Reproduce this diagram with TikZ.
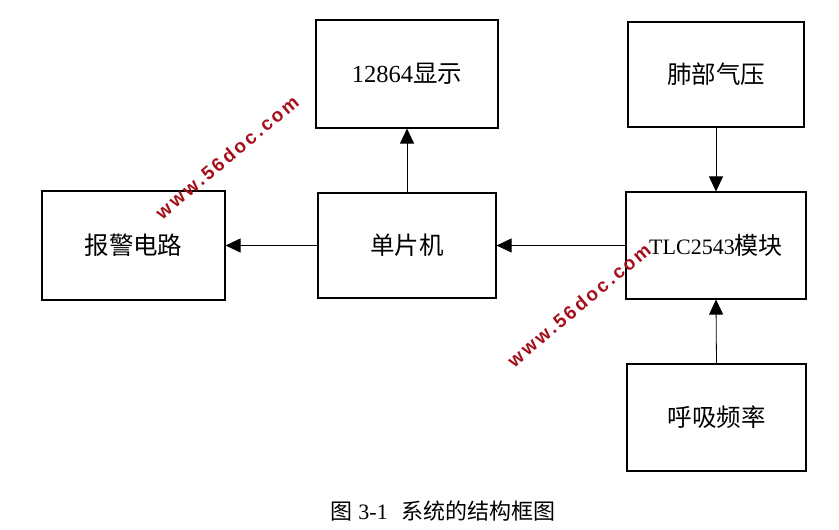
\documentclass[tikz,border=0pt]{standalone}
\usepackage{fontspec}
\setmainfont{Liberation Serif}
\newfontfamily\cjk{Noto Sans CJK SC}
\newfontfamily\wmfont[LetterSpace=14]{Liberation Sans}
\usepackage{tikz}
\usetikzlibrary{arrows.meta,positioning}

\definecolor{wmred}{RGB}{165,15,25}

\tikzset{
  blk/.style={draw, line width=1.1pt, inner sep=0pt, minimum width=180pt,
    minimum height=107pt, font=\fontsize{24.5}{28}\selectfont},
  conn/.style={line width=0.8pt, -{Triangle[length=15pt,width=14pt]}},
  wm/.style={text=wmred, font=\wmfont\bfseries\fontsize{19}{21}\selectfont, rotate=40}
}

\begin{document}
\begin{tikzpicture}[x=1pt,y=-1pt]
	\useasboundingbox (0,0) rectangle (839,530);
	% boxes
	\node[blk, minimum width=182pt, minimum height=108pt] (disp) at (407,74) {12864{\cjk 显示}};
	\node[blk, minimum width=176pt, minimum height=105pt] (lung) at (716,74.5) {\cjk 肺部气压};
	\node[blk, minimum width=183pt, minimum height=109pt] (alarm) at (133.5,245.5) {\cjk 报警电路};
	\node[blk, minimum width=178pt, minimum height=105pt] (mcu) at (407,245.5) {\cjk 单片机};
	\node[blk, font=\fontsize{22}{26}\selectfont] (adc) at (716,245.5) {TLC2543{\cjk\fontsize{24}{28}\selectfont 模块}};
	\node[blk, minimum width=179pt] (resp) at (716.5,417.5) {\cjk 呼吸频率};
	% connectors
	\draw[conn] (mcu.west) -- (alarm.east);
	\draw[conn] (adc.west) -- (mcu.east);
	\draw[conn] (mcu.north) -- (disp.south);
	\draw[conn] (lung.south) -- (adc.north);
	\draw[conn] (resp.north) -- (adc.south);
	% watermarks
	\node[wm] (wm1) at (227,157) {www.56doc.com};
	\node[wm] (wm2) at (579,305) {www.56doc.com};
	% caption
	\node[font=\fontsize{22}{26}\selectfont] (cap) at (443,511) {{\cjk 图} 3-1\hspace{0.6em}{\cjk 系统的结构框图}};
\end{tikzpicture}
\end{document}
